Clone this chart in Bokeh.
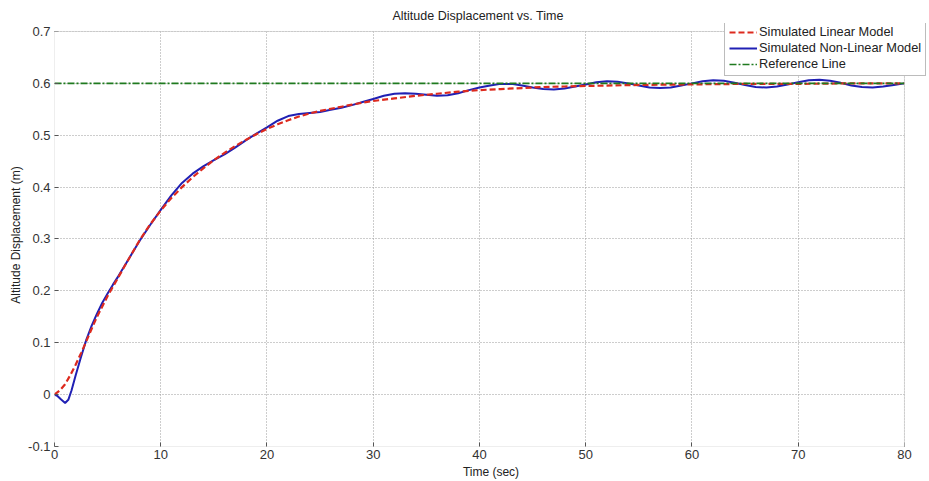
from bokeh.plotting import figure
from bokeh.models import (Legend, LegendItem, FixedTicker, CustomJSTickFormatter,
                          Range1d, BoxAnnotation)
from bokeh.embed import file_html
from bokeh.resources import INLINE

# ---- data ----
t_nonlinear = [0, 0.3, 0.6, 1.0, 1.3, 1.6, 2.0, 2.5, 3.0, 3.5, 4, 4.5, 5, 5.5, 6, 7, 8,
               9, 10, 11, 12, 13, 14, 15, 16, 17, 18, 19, 20, 21, 22, 23, 24, 25, 26,
               27, 28, 29, 30, 31, 32, 33, 34, 35, 36, 37, 38, 39, 40, 41, 42, 43, 44,
               45, 46, 47, 48, 49, 50, 51, 52, 53, 54, 55, 56, 57, 58, 59, 60, 61, 62,
               63, 64, 65, 66, 67, 68, 69, 70, 71, 72, 73, 74, 75, 76, 77, 78, 79, 80]
y_nonlinear = [0, -0.003, -0.009, -0.016, -0.010, 0.008, 0.038, 0.073, 0.106, 0.133,
               0.156, 0.177, 0.195, 0.212, 0.228, 0.262, 0.296, 0.327, 0.356, 0.384,
               0.408, 0.426, 0.440, 0.452, 0.463, 0.476, 0.490, 0.503, 0.515, 0.528,
               0.537, 0.541, 0.543, 0.545, 0.549, 0.553, 0.558, 0.564, 0.570, 0.576,
               0.580, 0.581, 0.580, 0.578, 0.576, 0.577, 0.581, 0.587, 0.592, 0.596,
               0.599, 0.599, 0.596, 0.592, 0.589, 0.588, 0.590, 0.594, 0.598, 0.602,
               0.604, 0.603, 0.600, 0.596, 0.592, 0.591, 0.592, 0.596, 0.600, 0.604,
               0.606, 0.605, 0.601, 0.597, 0.593, 0.592, 0.594, 0.598, 0.602, 0.606,
               0.607, 0.605, 0.601, 0.596, 0.593, 0.592, 0.594, 0.597, 0.600]

t_linear = [0, 0.5, 1.0, 1.5, 2.0, 2.5, 3.0, 3.5, 4, 5, 6, 7, 8, 9, 10, 11, 12, 13, 14,
            15, 16, 17, 18, 19, 20, 21, 22, 23, 24, 25, 26, 27, 28, 29, 30, 32, 34, 36,
            38, 40, 42, 44, 46, 48, 50, 55, 60, 65, 70, 75, 80]
y_linear = [0, 0.008, 0.020, 0.038, 0.058, 0.080, 0.103, 0.127, 0.150, 0.190, 0.226,
            0.262, 0.297, 0.328, 0.355, 0.379, 0.400, 0.419, 0.436, 0.452, 0.466, 0.479,
            0.491, 0.502, 0.512, 0.521, 0.529, 0.536, 0.542, 0.547, 0.551, 0.555, 0.559,
            0.563, 0.566, 0.571, 0.576, 0.580, 0.584, 0.587, 0.589, 0.591, 0.593, 0.594,
            0.595, 0.597, 0.598, 0.599, 0.599, 0.600, 0.600]

t_reference = [0, 80]
y_reference = [0.6, 0.6]

x_ticks = [0, 10, 20, 30, 40, 50, 60, 70, 80]
y_ticks = [-0.1, 0, 0.1, 0.2, 0.3, 0.4, 0.5, 0.6, 0.7]
x_min, x_max = 0, 80
y_min, y_max = -0.1, 0.7

FONT = "Liberation Sans"
BOX = "#8a8a8a"

# the frame is extended a little to the right/top so that the legend,
# which overhangs the axes box in the reference, is not clipped
p = figure(width=929, height=481, output_backend="svg", toolbar_location=None,
           x_range=Range1d(x_min, 82.17), y_range=Range1d(y_min, 0.7154),
           min_border_left=54, min_border_right=2, min_border_top=23,
           min_border_bottom=34)
p.background_fill_color = "white"
p.border_fill_color = "white"
p.outline_line_color = None

p.title.text = "Altitude Displacement vs. Time"
p.title.align = "left"
p.title.offset = 338
p.title.standoff = 2
p.title.text_font = FONT
p.title.text_font_size = "12.5px"
p.title.text_font_style = "normal"
p.title.text_color = "#222222"

fmt = CustomJSTickFormatter(code="return String(Math.round(tick*10)/10);")

for ax in (p.xaxis[0], p.yaxis[0]):
    ax.major_label_text_font = FONT
    ax.major_label_text_font_size = "13px"
    ax.major_label_text_color = "#333333"
    ax.axis_label_text_font = FONT
    ax.axis_label_text_font_size = "12px"
    ax.axis_label_text_font_style = "normal"
    ax.axis_label_text_color = "#222222"
    ax.axis_line_color = None
    ax.major_tick_line_color = "#555555"
    ax.major_tick_in = 4
    ax.major_tick_out = 0
    ax.minor_tick_line_color = None
    ax.formatter = fmt

p.xaxis[0].ticker = FixedTicker(ticks=x_ticks)
p.yaxis[0].ticker = FixedTicker(ticks=y_ticks)
p.xaxis[0].axis_label = "Time (sec)"
p.yaxis[0].axis_label = "Altitude Displacement (m)"
p.xaxis[0].major_label_standoff = 3
p.xaxis[0].axis_label_standoff = 3
p.yaxis[0].major_label_standoff = 4
p.yaxis[0].axis_label_standoff = 2

p.xgrid.ticker = FixedTicker(ticks=x_ticks)
p.ygrid.ticker = FixedTicker(ticks=y_ticks)
for g in (p.xgrid[0], p.ygrid[0]):
    g.grid_line_color = "#9a9a9a"
    g.grid_line_dash = "1 2"
    g.grid_line_width = 1

r_nl = p.line(t_nonlinear, y_nonlinear, line_color="#2020b4", line_width=2)
r_lin = p.line(t_linear, y_linear, line_color="#dd2a1e", line_width=2.2,
               line_dash="6 3")
r_ref = p.line(t_reference, y_reference, line_color="#1f7a1f", line_width=1.6,
               line_dash="7 2 2 2")

# white strips hide the grid outside the axes box, then the box itself
p.add_layout(BoxAnnotation(bottom=y_max, fill_color="white", fill_alpha=1,
                           line_color=None))
p.add_layout(BoxAnnotation(left=x_max, fill_color="white", fill_alpha=1,
                           line_color=None))
p.add_layout(BoxAnnotation(left=x_min, right=x_max, bottom=y_min, top=y_max,
                           fill_color=None, line_color=BOX, line_width=1))

legend = Legend(items=[
    LegendItem(label="Simulated Linear Model", renderers=[r_lin]),
    LegendItem(label="Simulated Non-Linear Model", renderers=[r_nl]),
    LegendItem(label="Reference Line", renderers=[r_ref]),
], location=(670, 370))
legend.label_text_font = FONT
legend.label_text_font_size = "12.8px"
legend.label_text_color = "#222222"
legend.glyph_width = 28
legend.glyph_height = 14
legend.label_height = 14
legend.label_standoff = 2
legend.spacing = 1
legend.padding = 4
legend.margin = 0
legend.border_line_color = "#7a7a7a"
legend.border_line_width = 1
legend.background_fill_color = "white"
legend.background_fill_alpha = 1
p.add_layout(legend)

open("out.html", "w").write(file_html(p, INLINE))
